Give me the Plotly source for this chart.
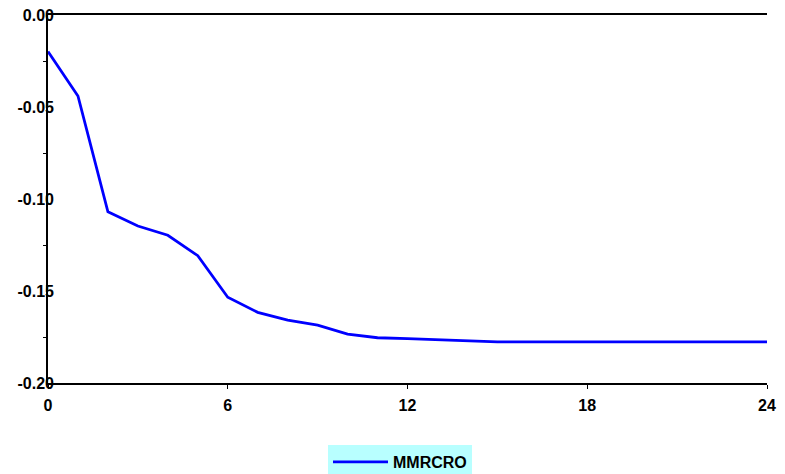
import plotly.graph_objects as go

periods = list(range(0, 25))
mmrcro = [-0.0199, -0.0440, -0.1070, -0.1147, -0.1197, -0.1308, -0.1534, -0.1616,
          -0.1658, -0.1685, -0.1734, -0.1754, -0.1759, -0.1765, -0.1770, -0.1776,
          -0.1776, -0.1776, -0.1776, -0.1776, -0.1776, -0.1776, -0.1776, -0.1776, -0.1776]
series_name = "MMRCRO"
x_ticks = [0, 6, 12, 18, 24]
y_ticks = [0.00, -0.05, -0.10, -0.15, -0.20]
y_ticklabels = ["0.00", "-0.05", "-0.10", "-0.15", "-0.20"]
y_minor = [-0.025, -0.075, -0.125, -0.175]

font = dict(family="Liberation Sans, Arial, sans-serif", size=16, color="black", weight="bold")

fig = go.Figure()
fig.add_trace(go.Scatter(x=periods, y=mmrcro, mode="lines", name="<b>" + series_name + "</b>",
                         line=dict(color="#0000FF", width=2.8)))
# empty helper trace so the label-only axis gets drawn
fig.add_trace(go.Scatter(x=[None], y=[None], yaxis="y2", showlegend=False,
                         hoverinfo="skip", mode="lines"))

fig.update_layout(
    width=785, height=474,
    margin=dict(l=48, r=18, t=15, b=91, autoexpand=False),
    paper_bgcolor="white", plot_bgcolor="white",
    showlegend=True,
    legend=dict(xref="container", yref="container", x=328 / 785, y=(474 - 445) / 474,
                xanchor="left", yanchor="top",
                bgcolor="#B8FFFF", font=font, itemwidth=55,
                borderwidth=0, tracegroupgap=0),
    xaxis=dict(range=[0, 24], tickmode="array", tickvals=x_ticks,
               ticktext=["<b>%d</b>" % v for v in x_ticks],
               showline=True, linecolor="black", linewidth=1.5, mirror=True,
               ticks="outside", ticklen=4, tickcolor="black", tickwidth=1,
               showgrid=False, zeroline=False, tickfont=font, ticklabelstandoff=3),
    yaxis=dict(range=[-0.2, 0.0], tickmode="array", tickvals=y_ticks,
               showticklabels=False,
               showline=True, linecolor="black", linewidth=1.5, mirror=False,
               ticks="", showgrid=False, zeroline=False,
               minor=dict(tickmode="array", tickvals=y_minor,
                          ticks="outside", ticklen=3, tickcolor="black", showgrid=False)),
    yaxis2=dict(range=[-0.2, 0.0], overlaying="y", anchor="free", side="left",
                position=6 / 719, tickmode="array", tickvals=y_ticks,
                ticktext=["<b>%s</b>" % t for t in y_ticklabels],
                showline=False, ticks="", showgrid=False,
                zeroline=False, tickfont=font),
)

fig.write_html("out.html")
